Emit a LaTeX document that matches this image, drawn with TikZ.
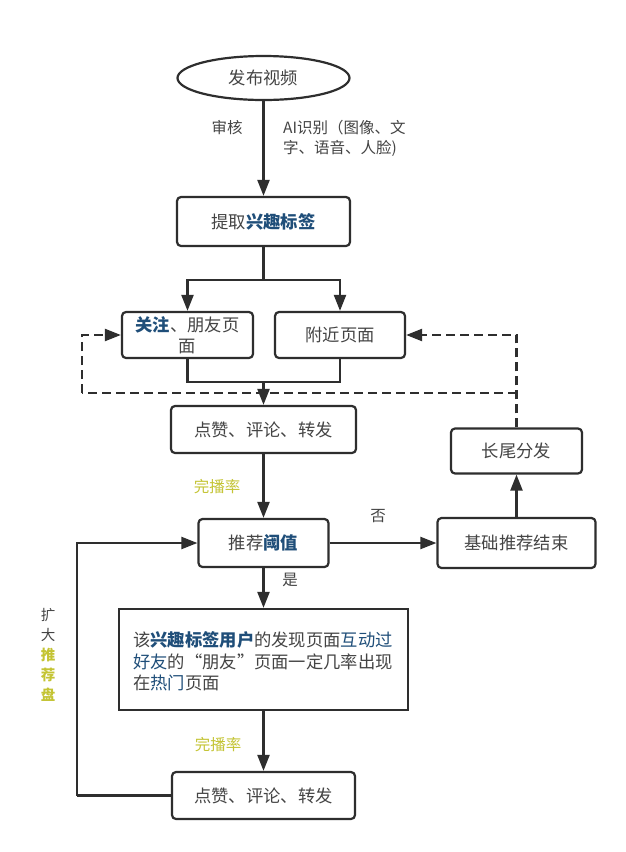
\documentclass[tikz,border=0pt]{standalone}
\usepackage{fontspec}
\setmainfont{Noto Sans CJK SC}
\usetikzlibrary{arrows.meta,shapes.geometric}
\definecolor{txt}{HTML}{444444}
\definecolor{ln}{HTML}{2E2E2E}
\definecolor{hb}{HTML}{1F4E79}
\definecolor{yl}{RGB}{196,196,52}
\tikzset{
  box/.style={draw=ln, line width=2.2pt, rounded corners=4pt, fill=white, text=txt,
    font=\fontsize{17.3}{21}\selectfont, inner sep=0pt},
  sqbox/.style={draw=ln, line width=2.2pt, fill=white, text=txt,
    font=\fontsize{17.3}{22}\selectfont, inner sep=0pt},
  conn/.style={draw=ln, line width=2.2pt, -{Triangle[length=16pt,width=12pt]}},
  plain/.style={draw=ln, line width=2.2pt},
  dconn/.style={draw=ln, line width=2.2pt, dash pattern=on 9pt off 5pt, -{Triangle[length=16pt,width=12pt]}},
  dline/.style={draw=ln, line width=2.2pt, dash pattern=on 9pt off 5pt},
  lbl/.style={text=txt, font=\fontsize{15.5}{20}\selectfont, inner sep=0pt},
  ylbl/.style={text=yl, font=\fontsize{15.5}{20}\selectfont, inner sep=0pt},
}
\newcommand{\hbb}[1]{\textcolor{hb}{\bfseries #1}}
\newcommand{\hbn}[1]{\textcolor{hb}{#1}}
\begin{document}
\begin{tikzpicture}[x=1pt,y=-1pt]
\fill[white] (0,0) rectangle (626,852);
\useasboundingbox (0,0) rectangle (626,852);

% nodes
\node[draw=ln, line width=2.2pt, ellipse, fill=white, text=txt, font=\fontsize{17.3}{21}\selectfont,
  minimum width=172pt, minimum height=44pt, inner sep=0pt] (start) at (263.5,78) {发布视频};
\node[box, minimum width=173pt, minimum height=49pt] (tag) at (263.5,221.5) {提取\hbb{兴趣标签}};
\node[box, minimum width=131pt, minimum height=46pt, align=center] (follow) at (187.5,335) {\hbb{关注}、朋友页\\面};
\node[box, minimum width=130pt, minimum height=46pt] (near) at (340,335) {附近页面};
\node[box, minimum width=185pt, minimum height=47pt] (act1) at (263.5,429.5) {点赞、评论、转发};
\node[box, minimum width=130pt, minimum height=48pt] (thr) at (263.5,543) {推荐\hbb{阈值}};
\node[box, minimum width=158pt, minimum height=50pt] (base) at (516.5,543) {基础推荐结束};
\node[box, minimum width=131pt, minimum height=45pt] (tail) at (516.5,451) {长尾分发};
\node[sqbox, minimum width=289pt, minimum height=101pt] (big) at (263.5,659.5) {};
\node[text=txt, font=\fontsize{17.3}{21.7}\selectfont, inner sep=0pt, align=left, anchor=west] (bigtxt) at (133,661.5)
  {该\hbb{兴趣标签用户}的发现页面\hbn{互动过}\\\hbn{好友}的“朋友”页面一定几率出现\\在\hbn{热门}页面};
\node[box, minimum width=183pt, minimum height=47pt] (act2) at (263.5,795.5) {点赞、评论、转发};

% labels
\node[lbl] (l1) at (227,128) {审核};
\node[lbl, align=left, anchor=west] (l2) at (283,138) {AI识别（图像、文\\字、语音、人脸)};
\node[ylbl] (l3) at (217,487) {完播率};
\node[lbl] (l4) at (378,516) {否};
\node[lbl] (l5) at (290,580) {是};
\node[ylbl] (l6) at (218,745) {完播率};
\node[align=center, font=\fontsize{14.5}{20}\selectfont, inner sep=0pt, text=txt] (l7) at (48,655)
  {扩\\大\\\textcolor{yl}{\bfseries 推}\\\textcolor{yl}{\bfseries 荐}\\\textcolor{yl}{\bfseries 盘}};

% coordinates
\coordinate (split) at (263.5,280);
\coordinate (join) at (263.5,382);
\coordinate (dR) at (516.5,393);
\coordinate (dL) at (82,393);
\coordinate (lp) at (77,795.5);

% connectors
\draw[conn] (start.south) -- (tag.north);
\draw[plain] (tag.south) -- (split);
\draw[conn] (split) -| (follow.north);
\draw[conn] (split) -| (near.north);
\draw[plain] (follow.south) |- (join);
\draw[plain] (near.south) |- (join);
\draw[conn] (join) -- (act1.north);
\draw[conn] (act1.south) -- (thr.north);
\draw[conn] (thr.east) -- (base.west);
\draw[conn] (base.north) -- (tail.south);
\draw[conn] (thr.south) -- (big.north);
\draw[conn] (big.south) -- (act2.north);
\draw[plain] (act2.west) -- (lp);
\draw[conn] (lp) |- (thr.west);
\draw[dconn] (tail.north) |- (near.east);
\draw[dline] (dR) -- (dL);
\draw[dconn] (dL) |- (follow.west);
\end{tikzpicture}
\end{document}
